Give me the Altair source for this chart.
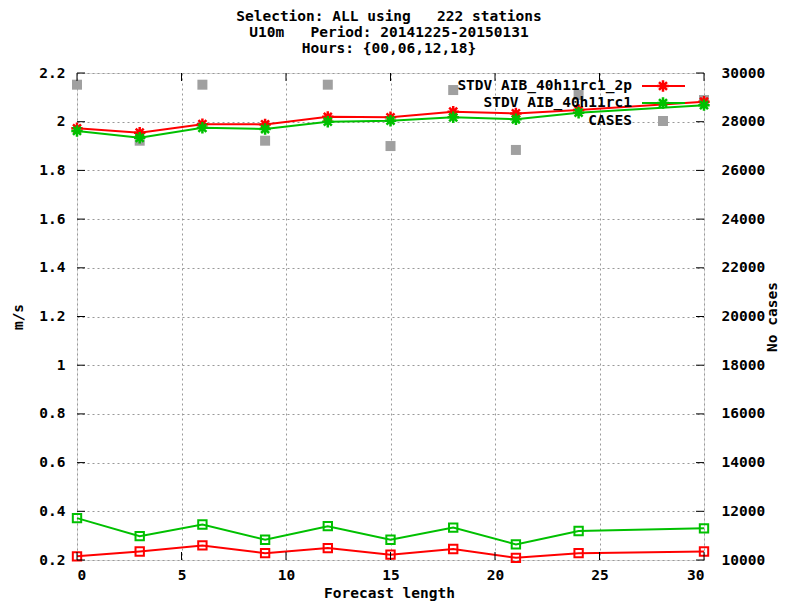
import altair as alt
import pandas as pd

# ---- data ----
lead = [0, 3, 6, 9, 12, 15, 18, 21, 24, 30]
stdv_2p = [1.973, 1.955, 1.990, 1.989, 2.020, 2.018, 2.041, 2.034, 2.048, 2.082]
stdv_rc1 = [1.962, 1.934, 1.975, 1.970, 2.000, 2.004, 2.018, 2.010, 2.037, 2.068]
bias_2p = [0.215, 0.235, 0.260, 0.228, 0.249, 0.222, 0.245, 0.209, 0.228, 0.235]
bias_rc1 = [0.372, 0.298, 0.346, 0.283, 0.339, 0.283, 0.333, 0.264, 0.319, 0.330]
cases = [29520, 27220, 29520, 27220, 29520, 27000, 29300, 26840, 29100, 28890]

x_ticks = [0, 5, 10, 15, 20, 25, 30]
y_ticks = [round(0.2 * i, 1) for i in range(1, 12)]
y2_ticks = list(range(10000, 30001, 2000))

title_lines = ["Selection: ALL using\u00a0\u00a0\u00a0222 stations",
               "U10m\u00a0\u00a0\u00a0Period: 20141225-20150131",
               "Hours: {00,06,12,18}"]
legend_names = ["STDV AIB_40h11rc1_2p", "STDV AIB_40h11rc1", "CASES"]

RED = "#ff0000"
GREEN = "#00c000"
GREY = "#a0a0a0"
FONT = "DejaVu Sans Mono"
FS = 14.5
ASTER = "M-1,0L1,0M0,-1L0,1M-0.7,-0.7L0.7,0.7M-0.7,0.7L0.7,-0.7"

W, H = 627, 487

long = pd.concat([pd.DataFrame({"lead": lead, "v": vals, "s": name})
                  for name, vals in {"s2p": stdv_2p, "s1": stdv_rc1,
                                     "b2p": bias_2p, "b1": bias_rc1}.items()],
                 ignore_index=True)
cases_df = pd.DataFrame({"lead": lead, "cases": cases})
yt_df = pd.DataFrame({"v": y_ticks})
xt_df = pd.DataFrame({"lead": x_ticks})

lab = dict(labelFont=FONT, labelFontSize=FS, labelFontWeight="bold", labelColor="black",
           titleFont=FONT, titleFontSize=FS, titleFontWeight="bold", titleColor="black",
           ticks=False, tickSize=0, domain=False)

xenc = alt.X("lead:Q", scale=alt.Scale(domain=[0, 30], nice=False, zero=False),
             axis=alt.Axis(values=x_ticks, title="Forecast length", grid=True,
                           gridDash=[2, 3], gridColor="#999999", gridWidth=1,
                           labelPadding=8, titleX=312, titleY=33,
                           titleBaseline="middle", titleAlign="center", **lab))
yscale = alt.Scale(domain=[0.2, 2.2], nice=False, zero=False)
yaxis = alt.Axis(values=y_ticks, format="~g", title="m/s", orient="left", grid=True,
                 gridDash=[2, 3], gridColor="#999999", gridWidth=1, labelPadding=12,
                 titleAngle=270, titleX=-59, titleY=H / 2, titleAlign="center",
                 titleBaseline="middle", **lab)
yenc = alt.Y("v:Q", scale=yscale, axis=yaxis)

base = alt.Chart(long)


def series_layers(name, color, shape, size, sw):
    d = base.transform_filter(alt.datum.s == name)
    line = d.mark_line(color=color, strokeWidth=2).encode(x=xenc, y=yenc)
    pts = d.mark_point(shape=shape, color=color, filled=False, strokeWidth=sw,
                       size=size, opacity=1).encode(x=xenc, y=yenc)
    return [line, pts]


layers = []
layers += series_layers("b2p", RED, "square", 70, 2)
layers += series_layers("b1", GREEN, "square", 70, 2)
layers += series_layers("s2p", RED, ASTER, 130, 2.5)
layers += series_layers("s1", GREEN, ASTER, 130, 2.5)

# inward tick marks (gnuplot style)
ytk = alt.Chart(yt_df)
layers.append(ytk.mark_rule(color="black", strokeWidth=1).encode(
    y=yenc, x=alt.value(0), x2=alt.value(8)))
layers.append(ytk.mark_rule(color="black", strokeWidth=1).encode(
    y=yenc, x=alt.value(W - 8), x2=alt.value(W)))
xtk = alt.Chart(xt_df)
layers.append(xtk.mark_rule(color="black", strokeWidth=1).encode(
    x=xenc, y=alt.value(H - 8), y2=alt.value(H)))
layers.append(xtk.mark_rule(color="black", strokeWidth=1).encode(
    x=xenc, y=alt.value(0), y2=alt.value(8)))

# legend (gnuplot key, top right inside the frame)
leg_y = [13, 30, 48]
for i, (nm, col) in enumerate(zip(legend_names, [RED, GREEN, GREY])):
    one = alt.Chart(pd.DataFrame({"name": [nm]}))
    layers.append(one.mark_text(align="right", baseline="middle", font=FONT,
                                fontSize=FS, fontWeight="bold", color="black").encode(
        text="name:N", x=alt.value(555), y=alt.value(leg_y[i])))
    if i < 2:
        layers.append(one.mark_rule(color=col, strokeWidth=2).encode(
            x=alt.value(565), x2=alt.value(608), y=alt.value(leg_y[i])))
        layers.append(one.mark_point(shape=ASTER, color=col, filled=False,
                                     strokeWidth=2.5, size=130, opacity=1).encode(
            x=alt.value(586), y=alt.value(leg_y[i])))
    else:
        layers.append(one.mark_square(color=col, size=100, opacity=1).encode(
            x=alt.value(586), y=alt.value(leg_y[i])))

# three-line title above the frame
title_y = [-56, -40, -24]
for t, ty in zip(title_lines, title_y):
    layers.append(alt.Chart(pd.DataFrame({"t": [t]})).mark_text(
        align="center", baseline="middle", font=FONT, fontSize=FS,
        fontWeight="bold", color="black").encode(
        text="t:N", x=alt.value(312), y=alt.value(ty)))

left_group = alt.layer(*layers)

cases_layer = alt.Chart(cases_df).mark_square(color=GREY, size=100, opacity=1).encode(
    x=xenc,
    y=alt.Y("cases:Q", scale=alt.Scale(domain=[10000, 30000], nice=False, zero=False),
            axis=alt.Axis(values=y2_ticks, format="d", orient="right", title="No cases",
                          grid=False, labelPadding=17, titleAngle=270, titleX=68,
                          titleY=H / 2, titleAlign="center", titleBaseline="middle",
                          **lab)))

chart = alt.layer(cases_layer, left_group).resolve_scale(y="independent").properties(
    width=W, height=H,
    autosize=alt.AutoSizeParams(type="none"),
    padding={"left": 69, "top": 65, "right": 74, "bottom": 41},
).configure_view(stroke="black", strokeWidth=1.5).configure(background="white")

chart.save("out.html", embed_options={"renderer": "svg", "actions": False})
